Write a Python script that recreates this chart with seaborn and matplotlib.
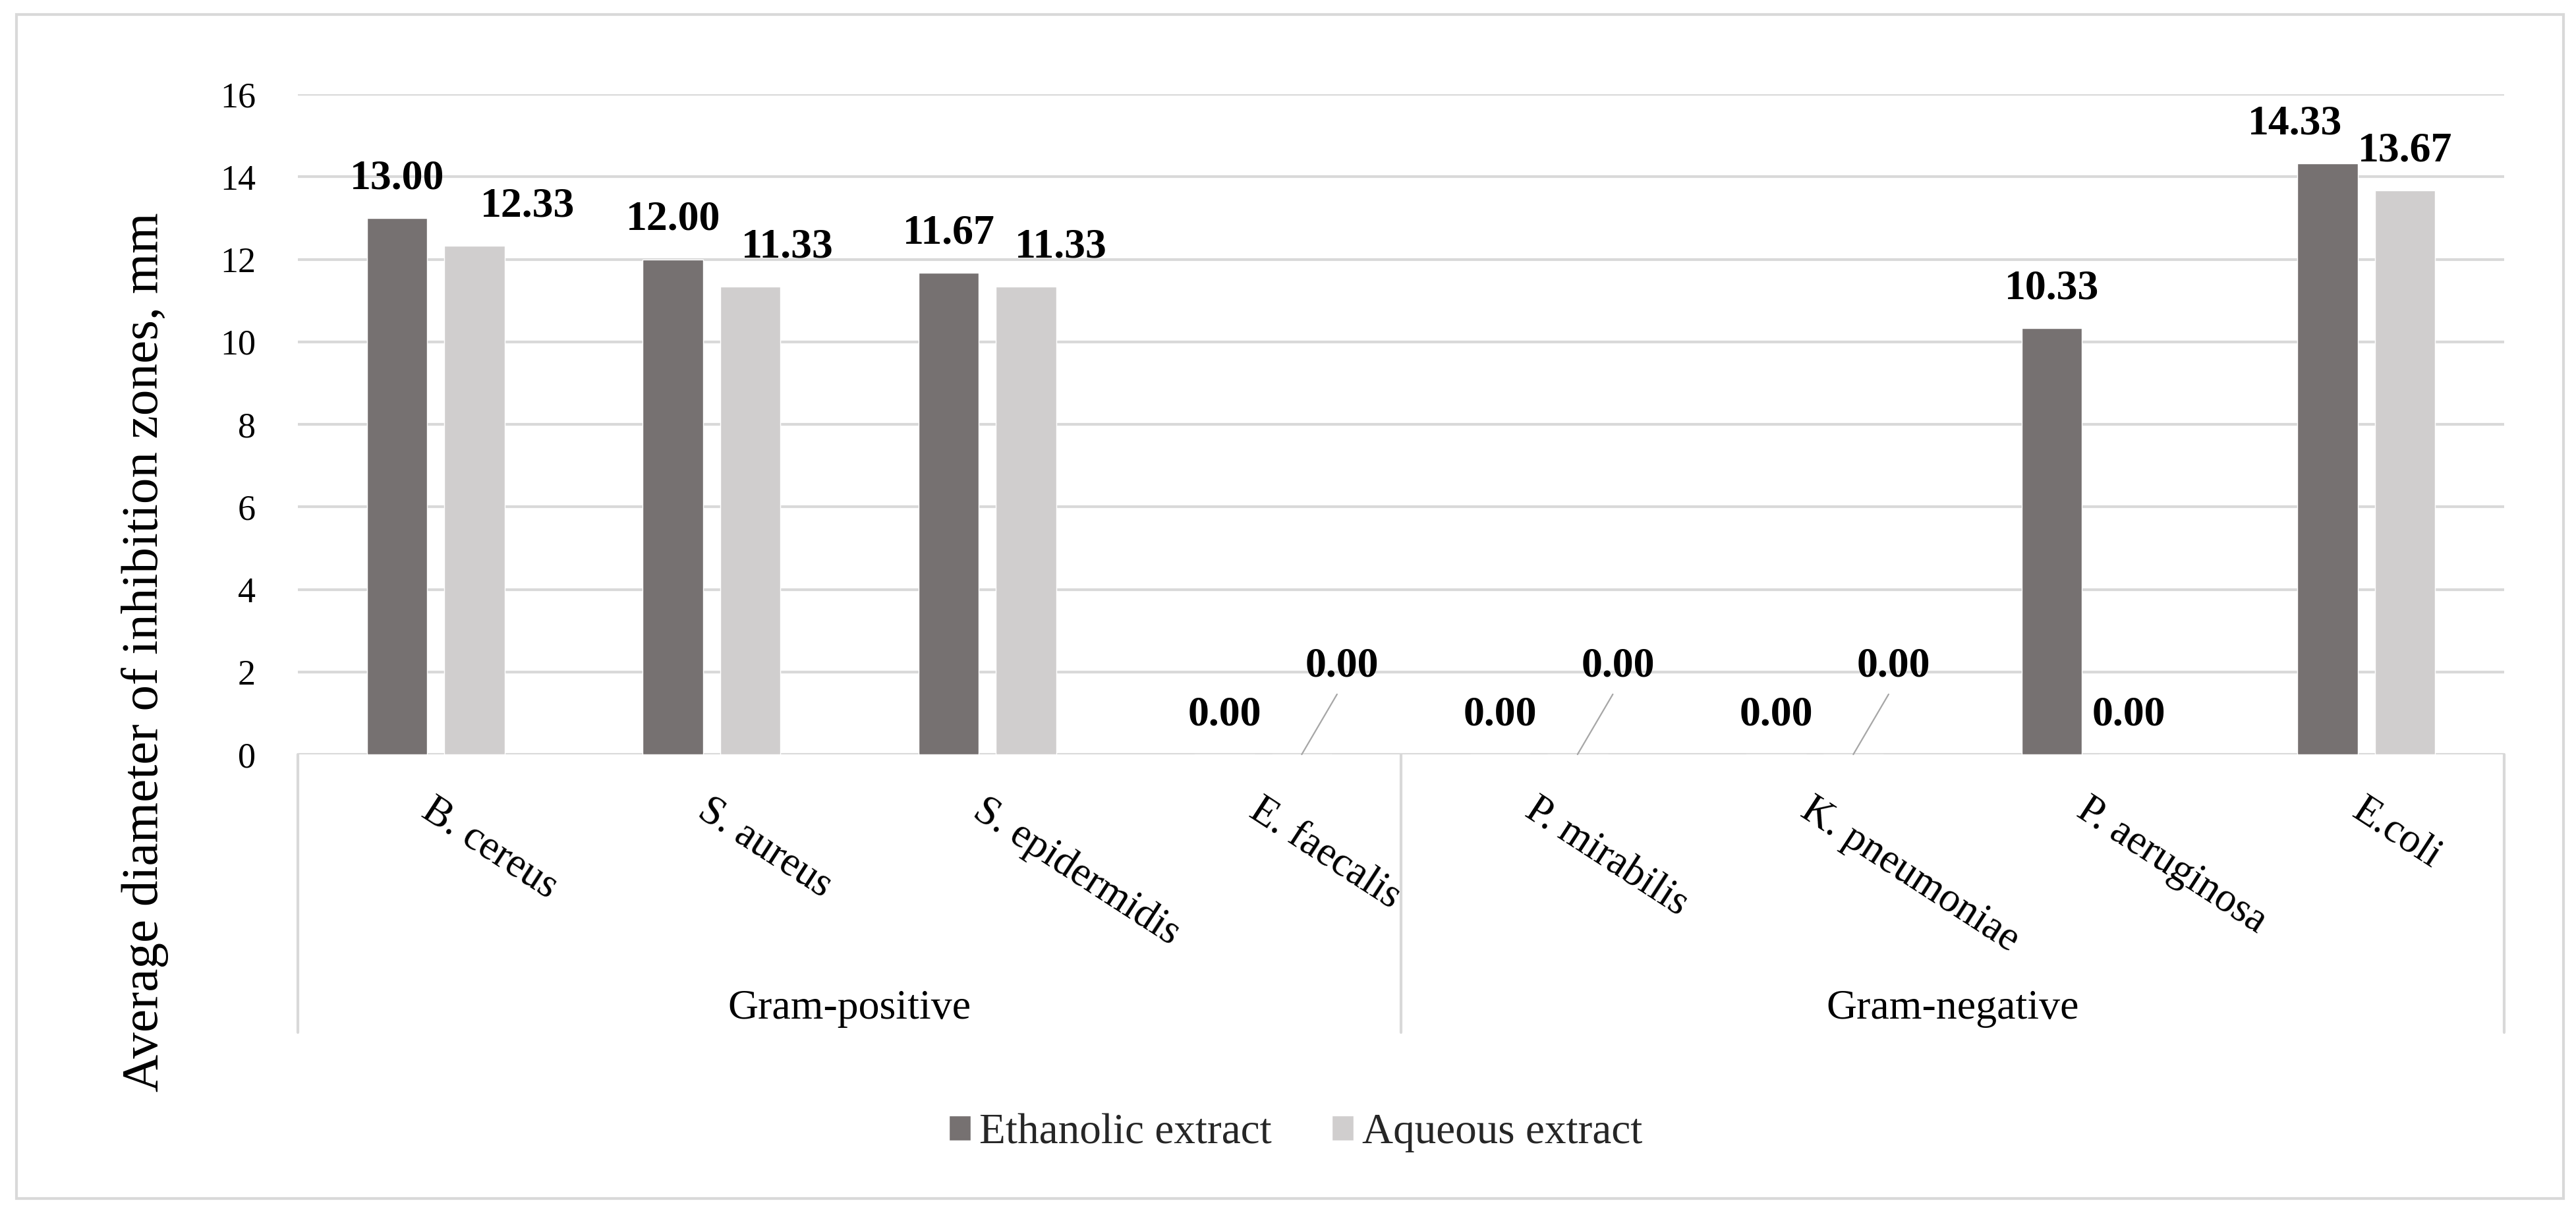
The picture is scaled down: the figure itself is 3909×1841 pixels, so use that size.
import pandas as pd
import numpy as np
import matplotlib.pyplot as plt
from matplotlib.patches import Rectangle
import seaborn as sns

# ── Data ───────────────────────────────────────────────────────────────────────
bacteria = ["B. cereus", "S. aureus", "S. epidermidis", "E. faecalis",
            "P. mirabilis", "K. pneumoniae", "P. aeruginosa", "E.coli"]
groups = ["Gram-positive", "Gram-negative"]
group_sizes = [4, 4]
ethanolic = [13.00, 12.00, 11.67, 0.00, 0.00, 0.00, 10.33, 14.33]
aqueous = [12.33, 11.33, 11.33, 0.00, 0.00, 0.00, 0.00, 13.67]
series = ["Ethanolic extract", "Aqueous extract"]
colors = ["#767171", "#D0CECE"]
y_ticks = [0, 2, 4, 6, 8, 10, 12, 14, 16]
y_label = "Average diameter of inhibition zones, mm"

# sideways nudges (points) of the value labels, as placed in the original
eth_label_shift = [0, 0, 0, 0, 0, 0, 0, -36]
aq_label_shift = [58, 41, 38, 44, 44, 44, 0, 0]

df = pd.DataFrame({
    "Bacteria": bacteria * 2,
    "Extract": [series[0]] * len(bacteria) + [series[1]] * len(bacteria),
    "Value": ethanolic + aqueous,
})

sns.set_theme(style="whitegrid")
plt.rcParams["font.family"] = ["Liberation Serif", "DejaVu Serif"]

W, H, DPI = 3909, 1841, 100
fig = plt.figure(figsize=(W / DPI, H / DPI), dpi=DPI, facecolor="white")
ax = fig.add_axes([452 / W, (H - 1145) / H, (3800 - 452) / W, 1002 / H])

sns.barplot(data=df, x="Bacteria", y="Value", hue="Extract", palette=colors,
            width=0.56, gap=0.22, saturation=1, errorbar=None, ax=ax)

ax.set_xlim(-0.5, len(bacteria) - 0.5)
ax.set_ylim(0, 16)
ax.set_yticks(y_ticks)
ax.set_xlabel("")
ax.set_ylabel("")
ax.grid(axis="y", color="#d9d9d9", lw=3)
ax.grid(axis="x", visible=False)
ax.set_axisbelow(True)
for s in ax.spines.values():
    s.set_visible(False)
ax.tick_params(axis="y", length=0, pad=46, labelsize=39, labelcolor="black")
ax.tick_params(axis="x", length=0, pad=40, labelsize=45, labelcolor="black")
for lbl in ax.get_xticklabels():
    lbl.set_rotation(-33)
    lbl.set_ha("left")
    lbl.set_va("top")
    lbl.set_rotation_mode("anchor")

fig.text(0.0563, 0.4623, y_label, rotation=90, ha="center", va="center",
         fontsize=57, color="black")

# ── Data labels ───────────────────────────────────────────────────────────────
lab_kw = dict(textcoords="offset points", ha="center", va="bottom",
              fontsize=46, fontweight="bold", color="black",
              annotation_clip=False)
for k, cont in enumerate(ax.containers):
    for j, bar in enumerate(cont):
        x = bar.get_x() + bar.get_width() / 2
        h = bar.get_height()
        txt = f"{h:.2f}"
        if k == 0:
            ax.annotate(txt, (x, h), xytext=(eth_label_shift[j], 22), **lab_kw)
        elif h == 0 and ethanolic[j] == 0:
            # both labels at zero: lifted and tied back with a leader line
            ax.annotate(txt, (x, 0), xytext=(aq_label_shift[j], 75),
                        arrowprops=dict(arrowstyle="-", color="#a6a6a6", lw=1.6,
                                        shrinkA=8, shrinkB=0, relpos=(0.5, 0)),
                        **lab_kw)
        else:
            ax.annotate(txt, (x, h), xytext=(aq_label_shift[j], 22), **lab_kw)

# ── Multi-level category axis ─────────────────────────────────────────────────
bounds = np.cumsum([0] + group_sizes) - 0.5
trans = ax.get_xaxis_transform()
for b in bounds:
    ax.plot([b, b], [0, -0.421], transform=trans, color="#d9d9d9", lw=3,
            clip_on=False)
for g, c in zip(groups, (bounds[:-1] + bounds[1:]) / 2):
    ax.text(c, -0.385, g, transform=trans, ha="center", va="center",
            fontsize=46, color="black")

# ── Legend ────────────────────────────────────────────────────────────────────
handles, labels = ax.get_legend_handles_labels()
ax.get_legend().remove()
fig.legend(handles, labels, loc="center", bbox_to_anchor=(0.503, 0.066),
           ncol=2, frameon=False, fontsize=47, handlelength=0.5,
           handleheight=0.5, handletextpad=0.2, columnspacing=1.4)

# chart border
fig.add_artist(Rectangle((25 / W, 22 / H), (3890 - 25) / W, (1819 - 22) / H,
                         transform=fig.transFigure, fill=False,
                         ec="#d9d9d9", lw=3))

fig.savefig("out.png", dpi=DPI, facecolor="white")
